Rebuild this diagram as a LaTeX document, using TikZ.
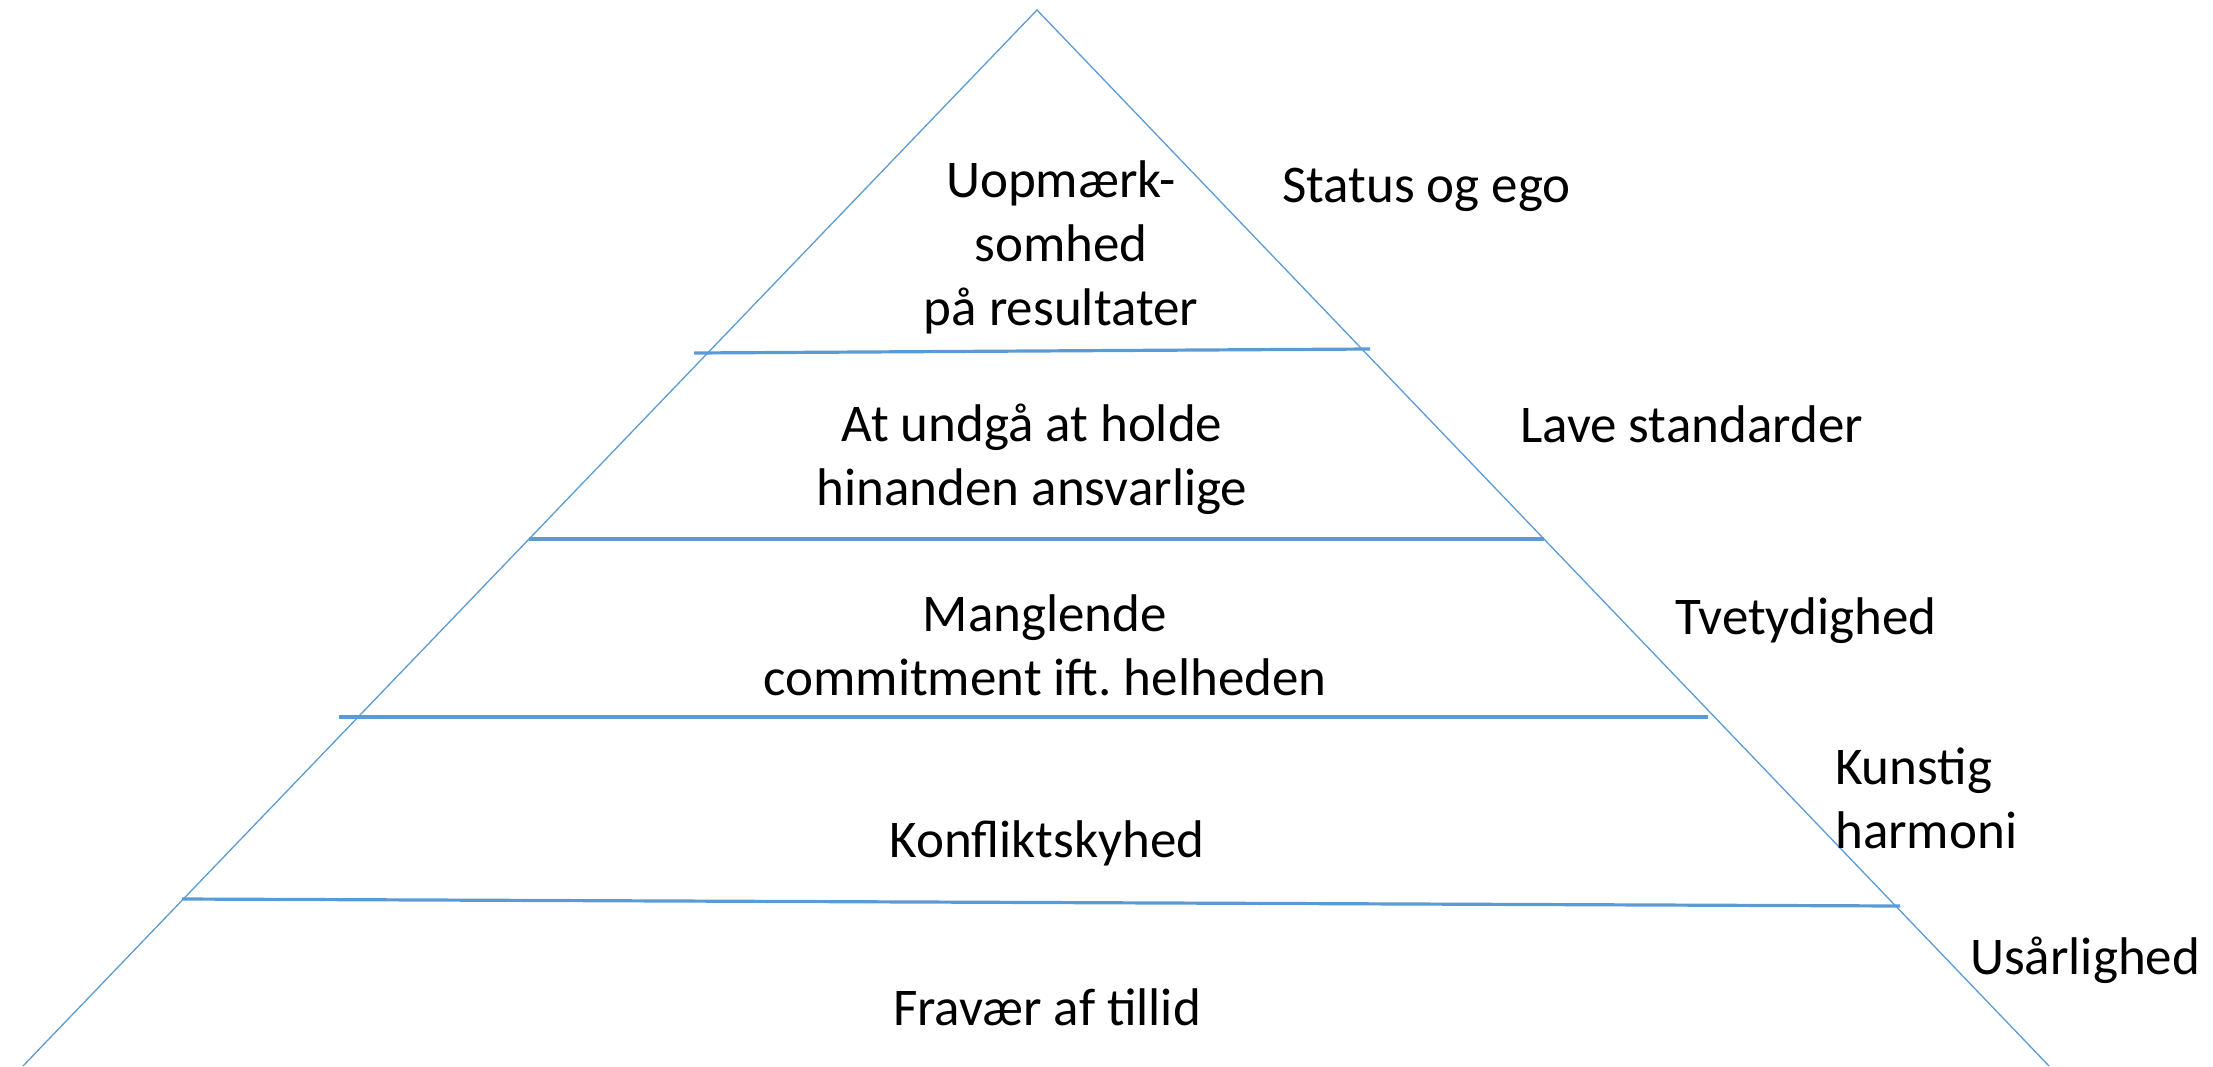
\documentclass[tikz,border=0pt]{standalone}
\usepackage{fontspec}
\setmainfont{Carlito}
\frenchspacing
\definecolor{pyrblue}{HTML}{5B9BD5}
\begin{document}
\begin{tikzpicture}[x=1pt,y=-1pt,
  edge/.style={draw=pyrblue,line width=1.3pt},
  tier/.style={draw=pyrblue,line width=3.2pt},
  lbl/.style={inner sep=0pt,font=\fontsize{53}{64}\selectfont,align=center,anchor=base},
  rlbl/.style={inner sep=0pt,font=\fontsize{53}{64}\selectfont,align=left,anchor=base west}]
\useasboundingbox (0,0) rectangle (2213,1066);
% triangle corners
\coordinate (apex) at (1037,10);
\coordinate (bl) at (23,1066);
\coordinate (br) at (2049,1066);
\draw[edge] (bl) -- (apex) -- (br);
% tier lines
\coordinate (l1a) at (694,353); \coordinate (l1b) at (1370,349);
\coordinate (l2a) at (529,539); \coordinate (l2b) at (1544,539);
\coordinate (l3a) at (339,717); \coordinate (l3b) at (1708,717);
\coordinate (l4a) at (182,899); \coordinate (l4b) at (1900,906);
\draw[tier] (l1a) -- (l1b);
\draw[tier] (l2a) -- (l2b);
\draw[tier] (l3a) -- (l3b);
\draw[tier] (l4a) -- (l4b);
% tier texts (base = baseline of last line)
\node[lbl] (t1) at (1061,325) {Uopmærk-\\somhed\\på resultater};
\node[lbl] (t2) at (1032,505) {At undgå at holde\\hinanden ansvarlige};
\node[lbl] (t3) at (1045,695) {Manglende\\commitment ift. helheden};
\node[lbl] (t4) at (1047,857) {Konfliktskyhed};
\node[lbl] (t5) at (1047,1025) {Fravær af tillid};
% side labels
\node[rlbl] (s1) at (1282,202) {Status og ego};
\node[rlbl] (s2) at (1520,442) {Lave standarder};
\node[rlbl] (s3) at (1675,634) {Tvetydighed};
\node[rlbl] (s4) at (1835,848) {Kunstig\\harmoni};
\node[rlbl] (s5) at (1970,974) {Usårlighed};
\end{tikzpicture}
\end{document}
